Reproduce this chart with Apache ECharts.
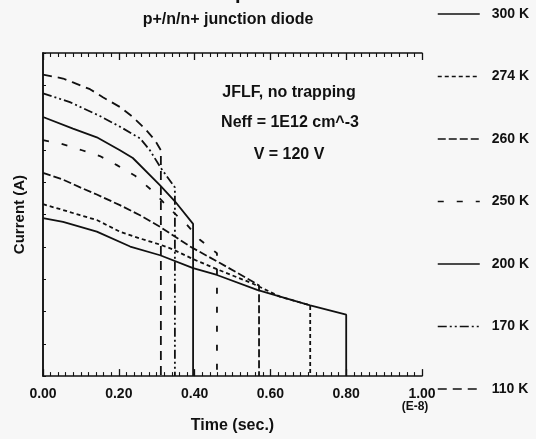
<!DOCTYPE html>
<html><head><meta charset="utf-8">
<script src="https://cdn.jsdelivr.net/npm/echarts@6/dist/echarts.min.js"></script>
<style>html,body{margin:0;padding:0;background:#f7f7f7}#c{width:536px;height:439px}</style>
</head><body><div id="c"></div>
<script>
// Time in units of 1E-8 s; current in arbitrary units (no y labels in source)
const xTicks = [0, 0.2, 0.4, 0.6, 0.8, 1.0];
const seriesNames = ['300 K', '274 K', '260 K', '250 K', '200 K', '170 K', '110 K'];

const t300 = [0, 0.053, 0.142, 0.230, 0.309, 0.396, 0.459, 0.565, 0.705, 0.80, 0.80];
const v300 = [48.9, 47.7, 44.7, 40.1, 37.4, 33.4, 31.3, 26.7, 21.9, 19.0, 0];

const t274 = [0, 0.053, 0.098, 0.142, 0.203, 0.256, 0.309, 0.343, 0.396, 0.459, 0.554, 0.625, 0.705, 0.705];
const v274 = [53.2, 51.4, 49.8, 48.3, 44.7, 42.6, 40.7, 39.2, 36.2, 33.1, 28.6, 24.6, 21.9, 0];

const t260 = [0, 0.053, 0.098, 0.142, 0.203, 0.256, 0.309, 0.388, 0.467, 0.554, 0.570, 0.570];
const v260 = [62.9, 60.8, 58.4, 56.2, 52.9, 49.8, 46.2, 40.1, 35.0, 29.2, 28.0, 0];

const t250 = [0, 0.045, 0.103, 0.150, 0.195, 0.243, 0.288, 0.335, 0.380, 0.414, 0.459, 0.459];
const v250 = [73.0, 72.0, 69.9, 68.1, 65.3, 62.0, 57.4, 51.7, 46.8, 42.2, 38.0, 0];

const t200 = [0, 0.079, 0.142, 0.203, 0.237, 0.309, 0.348, 0.396, 0.396];
const v200 = [80.2, 76.6, 73.9, 69.9, 67.5, 59.0, 54.1, 47.1, 0];

const t170 = [0, 0.071, 0.150, 0.203, 0.256, 0.282, 0.311, 0.348, 0.348];
const v170 = [87.5, 84.8, 80.5, 77.2, 73.6, 69.9, 64.4, 58.4, 0];

const t110 = [0, 0.053, 0.079, 0.124, 0.158, 0.203, 0.237, 0.269, 0.296, 0.311, 0.311];
const v110 = [93.3, 92.1, 90.9, 88.8, 86.3, 83.3, 80.2, 76.6, 72.9, 69.9, 0];

const seriesT = [t300, t274, t260, t250, t200, t170, t110];
const seriesV = [v300, v274, v260, v250, v200, v170, v110];
const dashes = ['solid', [4, 3], [8, 3], [6, 13], 'solid', [9, 3, 2, 3, 2, 3], [9, 6]];

const FONT = 'Liberation Sans, Arial, sans-serif';
const chart = echarts.init(document.getElementById('c'), null, {renderer: 'canvas'});

const series = seriesNames.map((n, i) => ({
  name: n,
  type: 'line',
  symbol: 'none',
  showSymbol: false,
  silent: true,
  animation: false,
  data: seriesT[i].map((t, k) => [t, seriesV[i][k]]),
  lineStyle: {color: '#111', width: 1.8, type: dashes[i]},
  itemStyle: {color: '#111'},
  xAxisIndex: 0, yAxisIndex: 0
}));

const axisCommon = {
  type: 'value', min: 0, max: 1, interval: 0.2,
  axisLine: {show: true, onZero: false, lineStyle: {color: '#111', width: 1.5}},
  axisTick: {show: true, inside: true, length: 7, lineStyle: {color: '#111', width: 1.3}},
  minorTick: {show: true, splitNumber: 10, length: 4, lineStyle: {color: '#111', width: 1.1}},
  splitLine: {show: false}, minorSplitLine: {show: false}
};

chart.setOption({
  backgroundColor: '#f7f7f7',
  animation: false,
  grid: {left: 43, right: 114, top: 53, bottom: 57, show: false},
  graphic: [
    {type: 'text', x: 230, y: -7, style: {text: 'Current Pulse Shapes for Electrons', font: 'bold 20px ' + FONT, fill: '#111', align: 'center', verticalAlign: 'middle'}},
    {type: 'text', x: 228, y: 20, style: {text: 'p+/n/n+ junction diode', font: 'bold 16px ' + FONT, fill: '#111', align: 'center', verticalAlign: 'middle'}},
    {type: 'text', x: 289, y: 93, style: {text: 'JFLF, no trapping', font: 'bold 16px ' + FONT, fill: '#111', align: 'center', verticalAlign: 'middle'}},
    {type: 'text', x: 290, y: 123, style: {text: 'Neff = 1E12 cm^-3', font: 'bold 16px ' + FONT, fill: '#111', align: 'center', verticalAlign: 'middle'}},
    {type: 'text', x: 289, y: 155, style: {text: 'V = 120 V', font: 'bold 16px ' + FONT, fill: '#111', align: 'center', verticalAlign: 'middle'}}
  ],
  legend: {
    data: seriesNames, orient: 'vertical', left: 437, top: 7, padding: 0,
    itemWidth: 42, itemHeight: 14, itemGap: 48.5,
    itemStyle: {opacity: 0, borderWidth: 0},
    lineStyle: {width: 1.5},
    textStyle: {fontFamily: FONT, fontWeight: 'bold', fontSize: 14, color: '#111', padding: [0, 0, 0, 7]},
    selectedMode: false
  },
  xAxis: [
    Object.assign({}, axisCommon, {
      position: 'bottom',
      name: 'Time (sec.)', nameLocation: 'middle', nameGap: 38,
      nameTextStyle: {fontFamily: FONT, fontWeight: 'bold', fontSize: 16, color: '#111'},
      axisLabel: {
        show: true, margin: 11, fontFamily: FONT, fontWeight: 'bold', fontSize: 14, color: '#111',
        formatter: v => Math.abs(v - 1) < 1e-9 ? '1.00\n{s|(E-8)}' : v.toFixed(2),
        rich: {s: {fontFamily: FONT, fontWeight: 'bold', fontSize: 12, color: '#111', padding: [0, 14, 0, 0]}}
      }
    }),
    Object.assign({}, axisCommon, {position: 'top', axisLabel: {show: false}})
  ],
  yAxis: [
    {
      type: 'value', min: 0, max: 100, interval: 10, position: 'left',
      name: 'Current (A)', nameLocation: 'middle', nameGap: 16, nameRotate: 90,
      nameTextStyle: {fontFamily: FONT, fontWeight: 'bold', fontSize: 15, color: '#111'},
      axisLine: {show: true, lineStyle: {color: '#111', width: 1.5}},
      axisTick: {show: true, inside: true, length: 3, lineStyle: {color: '#111', width: 1}},
      axisLabel: {show: false}, splitLine: {show: false}
    },
    {
      type: 'value', min: 0, max: 100, interval: 10, position: 'right',
      axisLine: {show: true, lineStyle: {color: '#111', width: 1.5}},
      axisTick: {show: false}, axisLabel: {show: false}, splitLine: {show: false}
    }
  ],
  series: series
});
</script>
</body></html>
